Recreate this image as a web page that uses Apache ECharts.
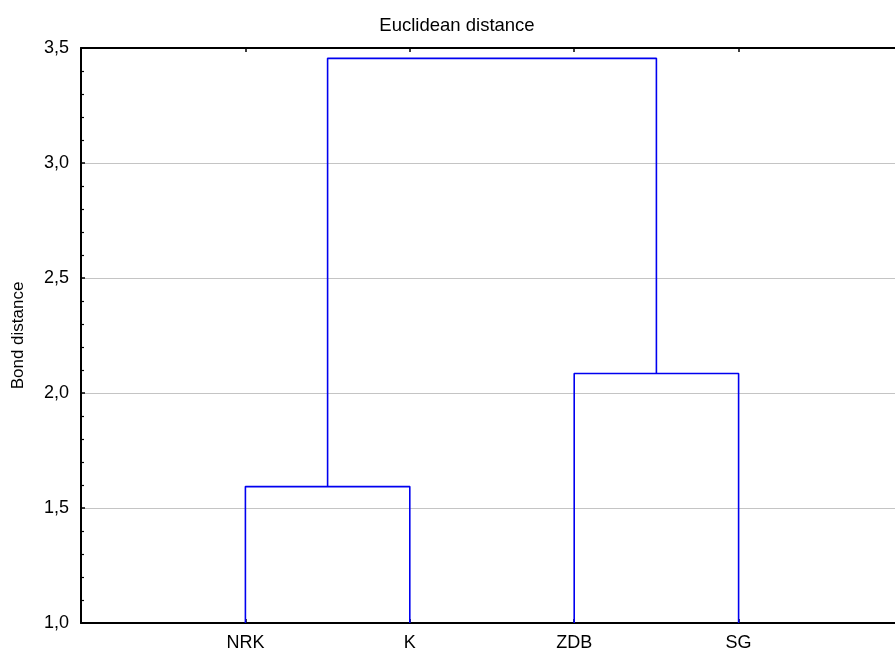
<!DOCTYPE html>
<html>
<head>
<meta charset="utf-8">
<script src="https://cdn.jsdelivr.net/npm/echarts@6/dist/echarts.min.js"></script>
<style>
html,body{margin:0;padding:0;background:#fff;}
#chart{width:895px;height:652px;}
</style>
</head>
<body>
<div id="chart"></div>
<script>
// Leaves of the dendrogram (in plotted order)
const leaves = ['NRK', 'K', 'ZDB', 'SG'];
// Merges: left child, right child, bond distance at which they join
const mergeLeft = ['NRK', 'ZDB', 'C1'];
const mergeRight = ['K', 'SG', 'C2'];
const mergeHeight = [1.593, 2.085, 3.455];
const mergeName = ['C1', 'C2', 'C3'];
// Y axis ticks
const yMin = 1.0, yMax = 3.5, yStep = 0.5;

// positions of nodes (leaf x = index + 1, leaf y = axis minimum)
const nodeX = {}, nodeY = {};
leaves.forEach((n, i) => { nodeX[n] = i + 1; nodeY[n] = yMin; });
const linkData = [];
mergeName.forEach((m, i) => {
  const a = mergeLeft[i], b = mergeRight[i], h = mergeHeight[i];
  nodeX[m] = (nodeX[a] + nodeX[b]) / 2;
  nodeY[m] = h;
  linkData.push([[nodeX[a], nodeY[a]], [nodeX[a], h], [nodeX[b], h], [nodeX[b], nodeY[b]]]);
});

const series = linkData.map(pts => ({
  type: 'line',
  data: pts,
  symbol: 'none',
  animation: false,
  silent: true,
  lineStyle: { color: '#0000f0', width: 1.6 },
  z: 5
}));

const axisFont = { fontFamily: 'Liberation Sans, Arial, sans-serif', fontSize: 18, color: '#000' };

const chart = echarts.init(document.getElementById('chart'), null, { renderer: 'canvas' });
chart.setOption({
  animation: false,
  backgroundColor: '#fff',
  title: {
    text: 'Euclidean distance',
    left: 452, top: 11, textAlign: 'center',
    textStyle: { fontFamily: 'Liberation Sans, Arial, sans-serif', fontSize: 18.5, fontWeight: 'normal', color: '#000' }
  },
  grid: { left: 81, right: -8, top: 48, bottom: 29, outerBoundsMode: 'none', containLabel: false },
  xAxis: [{
    type: 'value', position: 'bottom', min: 0, max: 5, interval: 1,
    axisLine: { show: true, onZero: false, lineStyle: { color: '#000', width: 2 } },
    axisTick: { show: true, inside: true, length: 4, lineStyle: { color: '#000', width: 1.5 } },
    splitLine: { show: false },
    axisLabel: Object.assign({ margin: 11, formatter: v => leaves[Math.round(v) - 1] || '' , showMinLabel: true, showMaxLabel: true}, axisFont)
  }, {
    type: 'value', position: 'top', min: 0, max: 5, interval: 1,
    axisLine: { show: true, onZero: false, lineStyle: { color: '#000', width: 2 } },
    axisTick: { show: true, inside: true, length: 4, lineStyle: { color: '#000', width: 1.5 } },
    splitLine: { show: false },
    axisLabel: { show: false }
  }],
  yAxis: [{
    type: 'value', min: yMin, max: yMax, interval: yStep,
    name: 'Bond distance', nameLocation: 'middle', nameGap: 54, nameRotate: 90,
    nameTextStyle: { fontFamily: 'Liberation Sans, Arial, sans-serif', fontSize: 17, color: '#000' },
    axisLine: { show: true, onZero: false, lineStyle: { color: '#000', width: 2 } },
    axisTick: { show: true, inside: true, length: 4, lineStyle: { color: '#000', width: 1.5 } },
    minorTick: { show: true, splitNumber: 5, length: 3, lineStyle: { color: '#000', width: 1.2 } },
    splitLine: { show: true, lineStyle: { color: '#c4c4c4', width: 1.2 } },
    axisLabel: Object.assign({ margin: 12, formatter: v => v.toFixed(1).replace('.', ',') }, axisFont)
  }],
  series: series
});
</script>
</body>
</html>
